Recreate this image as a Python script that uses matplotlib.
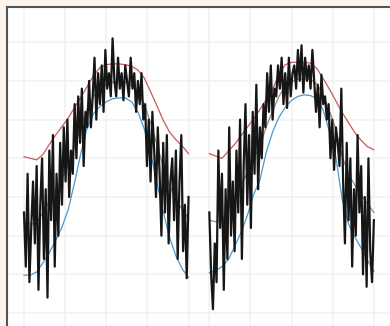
import numpy as np
import matplotlib.pyplot as plt

# Day-of-year sampling for the climate normals and the daily readings
normal_days = np.arange(0, 365, 14)
daily_days = np.arange(0, 365, 4)
year2_offset = 410  # second year is drawn after a short gap

# Normal daily maximum (°C)
normal_high_y1 = [5.2, 5.0, 4.8, 5.5, 6.8, 8.0, 9.1, 10.2, 11.6, 12.9, 14.3, 15.7, 16.7, 17.1,
                  17.2, 17.2, 17.1, 16.9, 16.4, 15.4, 13.6, 11.8, 9.9, 8.4, 7.4, 6.6, 5.6]
normal_high_y2 = [5.6, 5.3, 5.0, 5.9, 6.8, 7.9, 9.0, 10.1, 11.3, 12.6, 13.9, 15.9, 17.1, 17.4,
                  17.4, 17.4, 17.3, 16.6, 15.3, 13.9, 12.4, 10.9, 9.6, 8.3, 7.3, 6.5, 6.1]

# Normal daily minimum (°C)
normal_low_y1 = [-10.1, -10.1, -9.7, -8.5, -7.2, -5.6, -3.9, -1.6, 1.9, 5.7, 9.0, 10.8, 11.7, 12.3,
                 12.7, 12.8, 12.8, 12.3, 11.0, 8.8, 5.7, 1.9, -1.9, -5.2, -7.6, -9.3, -10.4]
normal_low_y2 = [-9.8, -9.5, -9.0, -8.1, -6.4, -4.6, -2.4, 0.3, 2.2, 5.8, 8.4, 10.3, 11.6, 12.5,
                 13.0, 13.2, 13.1, 12.7, 11.2, 8.4, 5.1, -0.3, -3.5, -5.2, -6.6, -8.2, -9.6]

# Normal daily mean (°C)
normal_mean_y1 = [-3.4, -3.5, -3.4, -2.0, -0.6, 0.9, 2.4, 4.2, 6.5, 9.0, 11.4, 13.0, 14.0, 14.5,
                  14.8, 14.9, 14.8, 14.4, 13.5, 12.0, 9.6, 6.8, 3.9, 1.5, -0.3, -1.6, -2.8]
normal_mean_y2 = [-3.0, -3.2, -3.0, -1.6, 0.0, 1.5, 3.1, 5.0, 6.6, 9.1, 11.1, 13.0, 14.3, 14.9,
                  15.2, 15.3, 15.2, 14.6, 13.2, 11.1, 8.7, 5.2, 3.0, 1.5, 0.3, -0.9, -2.0]

# Observed temperature (°C)
observed_y1 = [-2, -9, 3, -11, -4, 2,
               -6, 4, -12, -1, 5, -8,
               1, -13, 6, -3, 8, -9, 3, -5,
               7, -1, 9, 2, 10, 0, 6, 3,
               12, 5, 13, 7, 14, 4, 11, 9,
               15, 9, 13, 18, 10, 16,
               12, 17, 11, 19, 14, 16, 13, 20.5,
               15, 13, 18, 14, 16, 12.5, 17, 15, 13, 18, 14,
               16, 11, 15, 12, 16, 10,
               12, 4, 10, 2, 11, 6, 0, 9,
               3, -5, 7, -2, 8, -6, 2, 5,
               -3, 6, -8, 2, 8, -7, -1, -10.5, 0]
observed_y2 = [-2, -10, -14.5, -6, -11, 6,
               -4, 3, -12, 1, -8, 9, -5, 2,
               -7, 6, -2, 10, -8, 4, 12, -1,
               8, -4, 11, 3, 14.5, 1, 9, 5,
               12, 9, 16, 11, 17, 10, 14, 13, 17,
               14, 18, 12, 16, 11.5, 18, 13, 16,
               17, 14, 19, 15, 19.6, 13.5, 18, 15, 17, 14, 19,
               15, 11, 14.5, 9, 15.8, 12, 13, 10,
               12, 5, 10, 3.5, 9, 7, 4, 14,
               2, -6, 7, -3, 5, -9, 1, -5, 8,
               -2, 4, -10, 0, -11.6, 5, -7, -11, -3]

fig = plt.figure(figsize=(3.9, 3.26), dpi=100)
fig.patch.set_facecolor('#fdf5ee')
ax = fig.add_axes([7 / 390, 0, 1 - 7 / 390, 1 - 7 / 326])
ax.set_facecolor('white')

high_c, low_c, mean_c, obs_c = '#c65a58', '#4b98cf', '#8a8a8a', '#161616'

for off, hi, lo, mn, obs in [(0, normal_high_y1, normal_low_y1, normal_mean_y1, observed_y1),
                             (year2_offset, normal_high_y2, normal_low_y2, normal_mean_y2, observed_y2)]:
    ax.plot(normal_days + off, mn, color=mean_c, lw=0.9, zorder=2)
    ax.plot(normal_days + off, hi, color=high_c, lw=0.9, zorder=3)
    ax.plot(normal_days + off, lo, color=low_c, lw=0.9, zorder=3)
    ax.plot(daily_days + off, obs, color=obs_c, lw=1.6, zorder=4)

grid_x = [0, 91, 182, 273, 365, year2_offset, year2_offset + 91, year2_offset + 182,
          year2_offset + 273, year2_offset + 365]
ax.set_xticks(grid_x)
ax.set_yticks(np.arange(-15, 21, 5))
ax.grid(True, color='#f1f1f1', lw=1.1, zorder=0)
ax.tick_params(length=0, labelbottom=False, labelleft=False)

ax.set_xlim(-37.6, 809.7)
ax.set_ylim(-16.67, 24.55)

for side in ['right', 'bottom']:
    ax.spines[side].set_visible(False)
for side in ['top', 'left']:
    ax.spines[side].set_color('#555555')
    ax.spines[side].set_linewidth(1.5)

fig.savefig('out.png', dpi=100, facecolor=fig.get_facecolor())
